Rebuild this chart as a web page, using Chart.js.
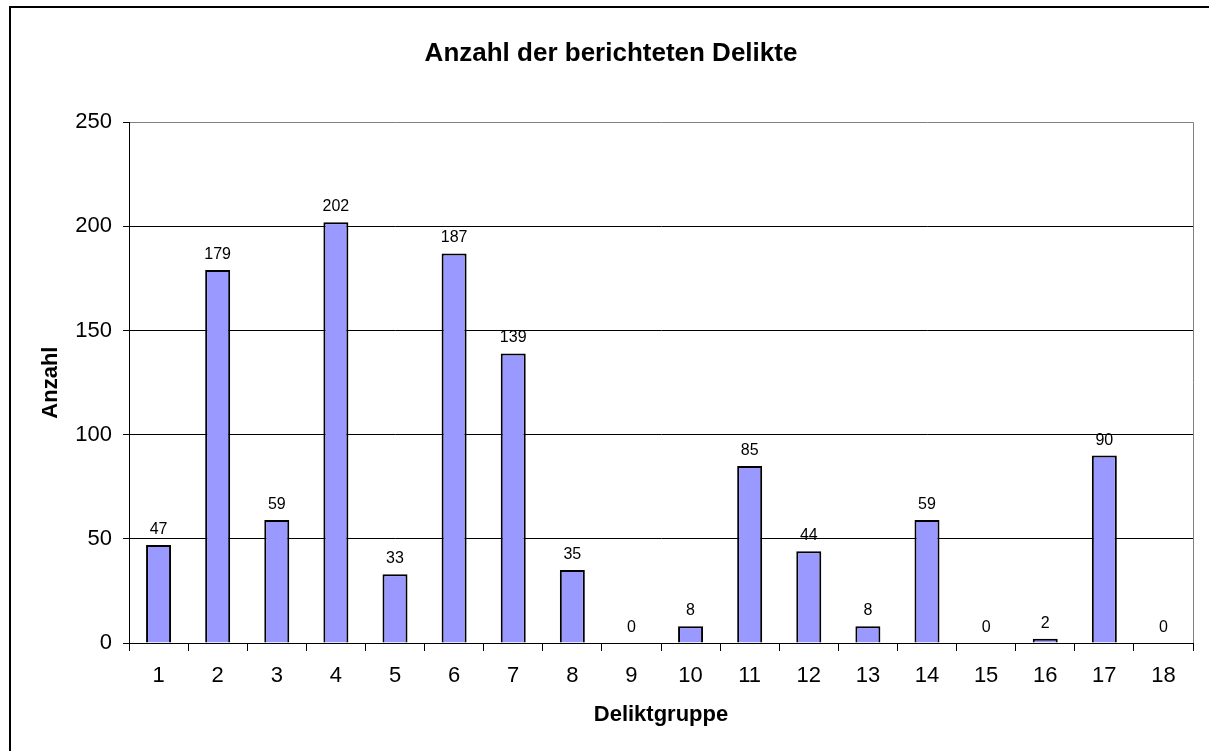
<!DOCTYPE html>
<html>
<head>
<meta charset="utf-8">
<title>Anzahl der berichteten Delikte</title>
<script src="https://cdn.jsdelivr.net/npm/chart.js@4/dist/chart.umd.min.js"></script>
<style>
  html, body { margin: 0; padding: 0; background: #fff; }
  #wrap { width: 1209px; height: 751px; }
</style>
</head>
<body>
<div id="wrap"><canvas id="deliktChart" width="1209" height="751"></canvas></div>
<script>
// Daten
const gruppen = ['1', '2', '3', '4', '5', '6', '7', '8', '9', '10', '11', '12', '13', '14', '15', '16', '17', '18'];
const anzahl = [47, 179, 59, 202, 33, 187, 139, 35, 0, 8, 85, 44, 8, 59, 0, 2, 90, 0];
const yTicks = [0, 50, 100, 150, 200, 250];

const FONT = "'Liberation Sans', Arial, sans-serif";

// Werte über den Balken + Rahmen
const extras = {
    id: 'extras',
    beforeDraw(chart) {
        const ctx = chart.ctx;
        ctx.save();
        ctx.fillStyle = '#fff';
        ctx.fillRect(0, 0, chart.width, chart.height);
        ctx.fillStyle = '#000';
        ctx.fillRect(9, 6, 2, chart.height - 6);
        ctx.fillRect(9, 6, chart.width - 9, 2);
        ctx.restore();
    },
    afterDatasetsDraw(chart) {
        const ctx = chart.ctx;
        const area = chart.chartArea;
        ctx.save();
        // rechter Rand der Zeichenfläche
        ctx.strokeStyle = '#808080';
        ctx.lineWidth = 1;
        ctx.beginPath();
        ctx.moveTo(Math.round(area.right) + 0.5, area.top);
        ctx.lineTo(Math.round(area.right) + 0.5, area.bottom);
        ctx.stroke();

        ctx.fillStyle = '#000';
        ctx.font = '16px ' + FONT;
        ctx.textAlign = 'center';
        ctx.textBaseline = 'alphabetic';
        const meta = chart.getDatasetMeta(0);
        meta.data.forEach((bar, i) => {
            ctx.fillText(String(anzahl[i]), bar.x, bar.y - 11);
        });
        ctx.restore();
    }
};

new Chart(document.getElementById('deliktChart'), {
    type: 'bar',
    data: {
        labels: gruppen,
        datasets: [{
            label: 'Anzahl',
            data: anzahl,
            backgroundColor: '#9999FF',
            borderColor: '#000',
            borderWidth: 2,
            categoryPercentage: 1,
            barPercentage: 0.423
        }]
    },
    options: {
        responsive: false,
        animation: false,
        devicePixelRatio: 1,
        layout: { padding: { left: 29, right: 16, top: 0, bottom: 0 } },
        plugins: {
            legend: { display: false },
            tooltip: { enabled: false },
            title: {
                display: true,
                text: 'Anzahl der berichteten Delikte',
                color: '#000',
                font: { family: FONT, size: 26, weight: 'bold', lineHeight: 1.2 },
                padding: { top: 38, bottom: 53 }
            }
        },
        scales: {
            x: {
                grid: { drawOnChartArea: false, drawTicks: true, tickLength: 8, color: '#000' },
                border: { color: '#000', width: 1 },
                ticks: { color: '#000', padding: 12, font: { family: FONT, size: 22 }, maxRotation: 0 },
                title: {
                    display: true,
                    text: 'Deliktgruppe',
                    color: '#000',
                    font: { family: FONT, size: 22, weight: 'bold', lineHeight: 1.2 },
                    padding: { top: 0, bottom: 23 }
                },
                afterFit(scale) { scale.height = 108; }
            },
            y: {
                min: 0,
                max: 250,
                afterBuildTicks(scale) { scale.ticks = yTicks.map(v => ({ value: v })); },
                grid: {
                    color: ctx => (ctx.tick && ctx.tick.value === 250 ? '#808080' : '#000'),
                    tickColor: '#000',
                    tickLength: 6
                },
                border: { color: '#000', width: 1 },
                ticks: { color: '#000', padding: 11, font: { family: FONT, size: 22 } },
                title: {
                    display: true,
                    text: 'Anzahl',
                    color: '#000',
                    font: { family: FONT, size: 22, weight: 'bold', lineHeight: 1.2 },
                    padding: { top: 9, bottom: 0 }
                },
                afterFit(scale) { scale.width = 100; }
            }
        }
    },
    plugins: [extras]
});
</script>
</body>
</html>
